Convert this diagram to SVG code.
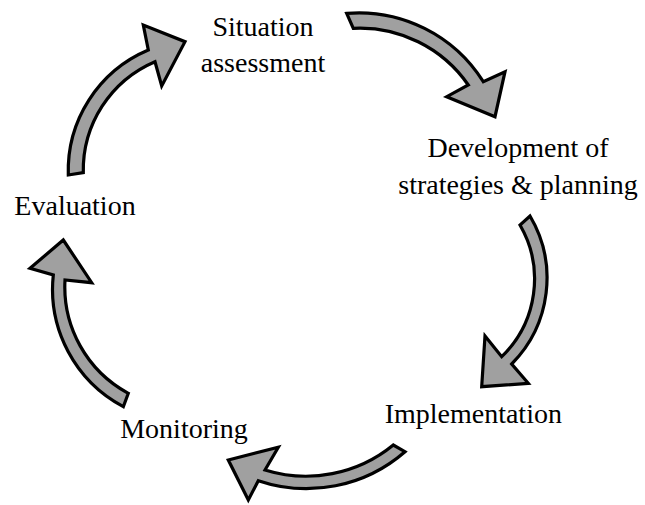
<svg xmlns="http://www.w3.org/2000/svg" width="645" height="505" viewBox="0 0 645 505">
<style>
.lbl{font-family:'Liberation Serif','Times New Roman',serif;font-size:28px;fill:#000;text-anchor:middle}
.arr{fill:#a0a0a0;stroke:#000;stroke-width:3.2;stroke-linejoin:miter}
</style>
<rect width="645" height="505" fill="#fff"/>
<g id="connectors">
<path class="arr" d="M346.7,13.3 A147,147 0 0,1 483.3,81.7 L505,71.7 L495,116.7 L446.7,96.7 L468.3,85 A132,132 0 0,0 353.3,28.3 Z"/>
<path class="arr" d="M530,216 A122,122 0 0,1 511.7,364 L528.3,383.3 L481.7,386.7 L485,336 L501.7,356.7 A108,108 0 0,0 520,225 Z"/>
<path class="arr" d="M405,451.7 A150,150 0 0,1 258.3,480.7 L248.3,500 L228.3,460 L278.3,447.3 L265,470 A138,138 0 0,0 393.3,445 Z"/>
<path class="arr" d="M123.3,406.7 A133,133 0 0,1 53.3,275 L30,268.3 L63.3,240 L91.7,282.7 L65,280 A121,121 0 0,0 128.3,393.3 Z"/>
<path class="arr" d="M68.3,175 A131,131 0 0,1 148.3,50 L143.3,25 L185,41.7 L161.7,86 L155,61.7 A118,118 0 0,0 83.3,172.7 Z"/>
</g>
<g id="situation"><text class="lbl" x="263" y="36">Situation</text><text class="lbl" x="263" y="71.5">assessment</text></g>
<g id="development"><text class="lbl" x="518" y="156.5">Development of</text><text class="lbl" x="518" y="193.5">strategies &amp; planning</text></g>
<g id="implementation"><text class="lbl" x="473.3" y="423.3">Implementation</text></g>
<g id="monitoring"><text class="lbl" x="184" y="438.3">Monitoring</text></g>
<g id="evaluation"><text class="lbl" x="75" y="215">Evaluation</text></g>
</svg>
